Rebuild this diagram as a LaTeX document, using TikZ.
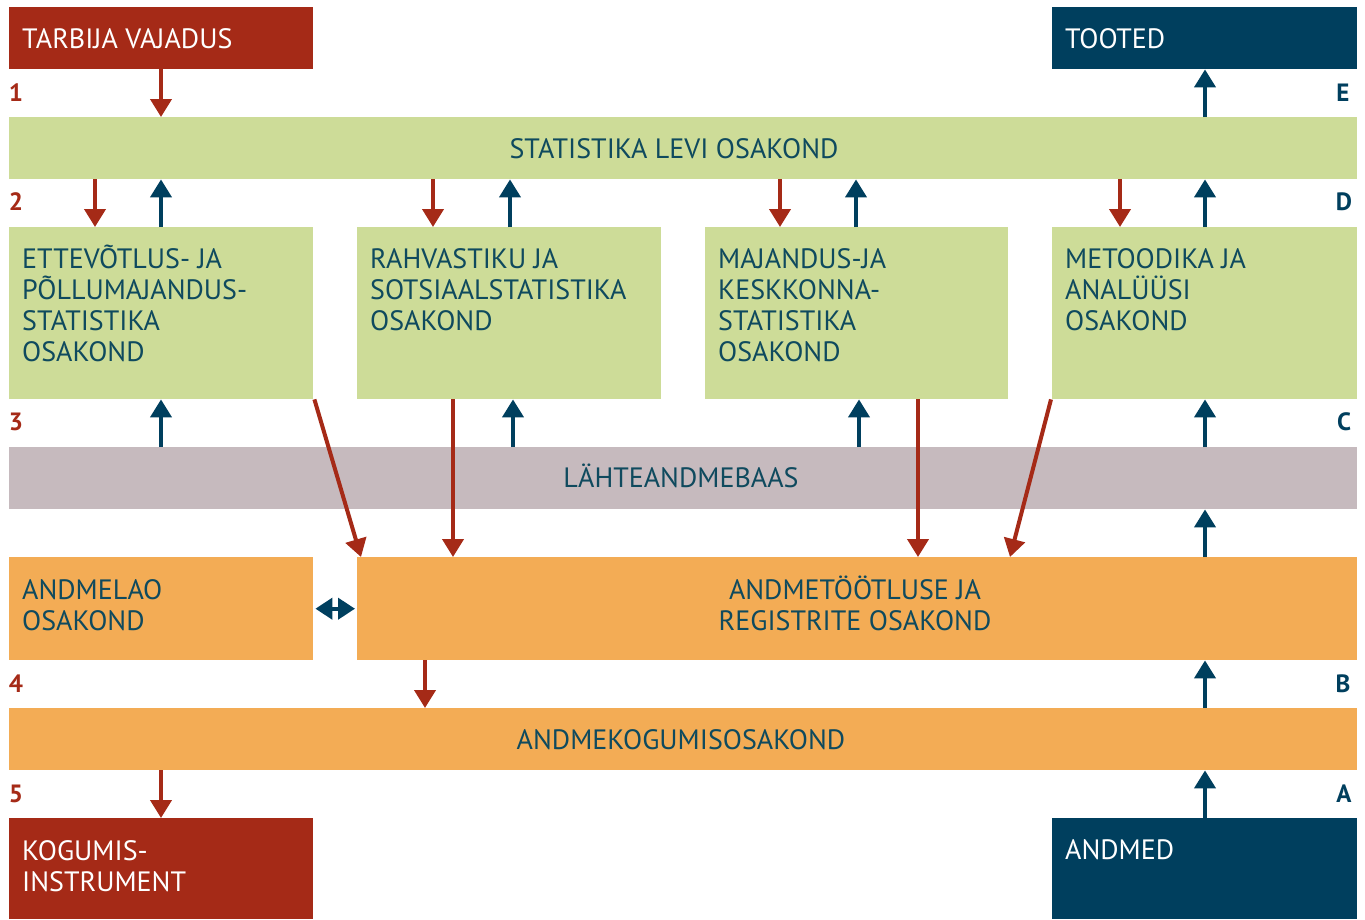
\documentclass[tikz,border=0pt]{standalone}
\usepackage{fontspec}
\setmainfont{PT Sans}
\usetikzlibrary{arrows.meta}
\definecolor{cred}{HTML}{A52A17}
\definecolor{cblue}{HTML}{003F5E}
\definecolor{cgreen}{HTML}{CDDC98}
\definecolor{cgrey}{HTML}{C6BABE}
\definecolor{corange}{HTML}{F3AC55}
\definecolor{ctext}{HTML}{0F4A5E}
\tikzset{
  box/.style={rectangle, inner sep=0pt, anchor=north west},
  txt/.style={anchor=base west, inner sep=0pt, align=left, font=\fontsize{28}{31}\selectfont, text=ctext},
  ctr/.style={anchor=base, inner sep=0pt, align=center, font=\fontsize{28}{31}\selectfont, text=ctext},
  num/.style={inner sep=0pt, font=\fontsize{25}{28}\selectfont\bfseries, text=cred},
  let/.style={inner sep=0pt, font=\fontsize{25}{28}\selectfont\bfseries, text=cblue},
  redarr/.style={draw=cred, line width=4pt, -{Triangle[width=21pt,length=18pt]}},
  bluearr/.style={draw=cblue, line width=4pt, -{Triangle[width=21pt,length=18pt]}},
}
\begin{document}
\begin{tikzpicture}[x=1pt,y=-1pt]
\useasboundingbox[fill=white] (0,0) rectangle (1365,919);
% boxes
\node[box, fill=cred, minimum width=304pt, minimum height=62pt] (tv) at (9,7) {};
\node[box, fill=cblue, minimum width=305pt, minimum height=62pt] (too) at (1052,7) {};
\node[box, fill=cgreen, minimum width=1348pt, minimum height=62pt] (lev) at (9,117) {};
\node[box, fill=cgreen, minimum width=304pt, minimum height=172pt] (ett) at (9,227) {};
\node[box, fill=cgreen, minimum width=304pt, minimum height=172pt] (rah) at (357,227) {};
\node[box, fill=cgreen, minimum width=303pt, minimum height=172pt] (maj) at (705,227) {};
\node[box, fill=cgreen, minimum width=305pt, minimum height=172pt] (met) at (1052,227) {};
\node[box, fill=cgrey, minimum width=1348pt, minimum height=62pt] (lah) at (9,447) {};
\node[box, fill=corange, minimum width=304pt, minimum height=103pt] (ala) at (9,557) {};
\node[box, fill=corange, minimum width=1000pt, minimum height=103pt] (ato) at (357,557) {};
\node[box, fill=corange, minimum width=1348pt, minimum height=62pt] (ako) at (9,708) {};
\node[box, fill=cred, minimum width=304pt, minimum height=101pt] (kog) at (9,818) {};
\node[box, fill=cblue, minimum width=305pt, minimum height=101pt] (and) at (1052,818) {};
% texts (base = baseline of last line)
\node[txt, text=white] (ttv) at (22,48) {TARBIJA VAJADUS};
\node[txt, text=white] (ttoo) at (1065,48) {TOOTED};
\node[ctr] (tlev) at (674,158) {STATISTIKA LEVI OSAKOND};
\node[txt] (tett) at (22,361) {ETTEVÕTLUS- JA\\PÕLLUMAJANDUS-\\STATISTIKA\\OSAKOND};
\node[txt] (trah) at (370,330) {RAHVASTIKU JA\\SOTSIAALSTATISTIKA\\OSAKOND};
\node[txt] (tmaj) at (718,361) {MAJANDUS-JA\\KESKKONNA-\\STATISTIKA\\OSAKOND};
\node[txt] (tmet) at (1065,330) {METOODIKA JA\\ANALÜÜSI\\OSAKOND};
\node[ctr] (tlah) at (681,487) {LÄHTEANDMEBAAS};
\node[txt] (tala) at (22,630) {ANDMELAO\\OSAKOND};
\node[ctr] (tato) at (855,630) {ANDMETÖÖTLUSE JA\\REGISTRITE OSAKOND};
\node[ctr] (tako) at (681,749) {ANDMEKOGUMISOSAKOND};
\node[txt, text=white] (tkog) at (22,891) {KOGUMIS-\\INSTRUMENT};
\node[txt, text=white] (tand) at (1065,859) {ANDMED};
% row labels
\node[num] (n1) at (16,93) {1};
\node[num] (n2) at (16,202) {2};
\node[num] (n3) at (16,422) {3};
\node[num] (n4) at (16,684) {4};
\node[num] (n5) at (16,794) {5};
\node[let] (lE) at (1343,93) {E};
\node[let] (lD) at (1344,202) {D};
\node[let] (lC) at (1344,422) {C};
\node[let] (lB) at (1343,684) {B};
\node[let] (lA) at (1344,794) {A};
% arrows row 1
\draw[redarr] ([xshift=152pt]tv.south west) -- ([xshift=152pt]lev.north west);
\draw[bluearr] ([xshift=1196pt]lev.north west) -- ([xshift=153pt]too.south west);
% row 2
\draw[redarr] ([xshift=86pt]lev.south west) -- ([xshift=86pt]ett.north west);
\draw[bluearr] ([xshift=152pt]ett.north west) -- ([xshift=152pt]lev.south west);
\draw[redarr] ([xshift=424pt]lev.south west) -- ([xshift=76pt]rah.north west);
\draw[bluearr] ([xshift=153pt]rah.north west) -- ([xshift=501pt]lev.south west);
\draw[redarr] ([xshift=771pt]lev.south west) -- ([xshift=75pt]maj.north west);
\draw[bluearr] ([xshift=151pt]maj.north west) -- ([xshift=847pt]lev.south west);
\draw[redarr] ([xshift=1111pt]lev.south west) -- ([xshift=68pt]met.north west);
\draw[bluearr] ([xshift=153pt]met.north west) -- ([xshift=1196pt]lev.south west);
% row 3
\draw[bluearr] ([xshift=152pt]lah.north west) -- ([xshift=152pt]ett.south west);
\draw[bluearr] ([xshift=504pt]lah.north west) -- ([xshift=156pt]rah.south west);
\draw[bluearr] ([xshift=850pt]lah.north west) -- ([xshift=154pt]maj.south west);
\draw[bluearr] ([xshift=1196pt]lah.north west) -- ([xshift=153pt]met.south west);
% to processing
\draw[redarr] ([xshift=1pt]ett.south east) -- ([xshift=4pt]ato.north west);
\draw[redarr] ([xshift=96pt]rah.south west) -- ([xshift=96pt]ato.north west);
\draw[redarr] ([xshift=213pt]maj.south west) -- ([xshift=561pt]ato.north west);
\draw[redarr] ([xshift=-1pt]met.south west) -- ([xshift=653pt]ato.north west);
\draw[bluearr] ([xshift=848pt]ato.north west) -- ([xshift=1196pt]lah.south west);
% double arrow
\draw[draw=cblue, line width=4pt, {Triangle[width=21pt,length=17pt]}-{Triangle[width=21pt,length=17pt]}] ([xshift=2pt]ala.east) -- ([xshift=-2pt]ato.west);
% row 4
\draw[redarr] ([xshift=68pt]ato.south west) -- ([xshift=416pt]ako.north west);
\draw[bluearr] ([xshift=1196pt]ako.north west) -- ([xshift=848pt]ato.south west);
% row 5
\draw[redarr] ([xshift=152pt]ako.south west) -- ([xshift=152pt]kog.north west);
\draw[bluearr] ([xshift=153pt]and.north west) -- ([xshift=1196pt]ako.south west);
\end{tikzpicture}
\end{document}
